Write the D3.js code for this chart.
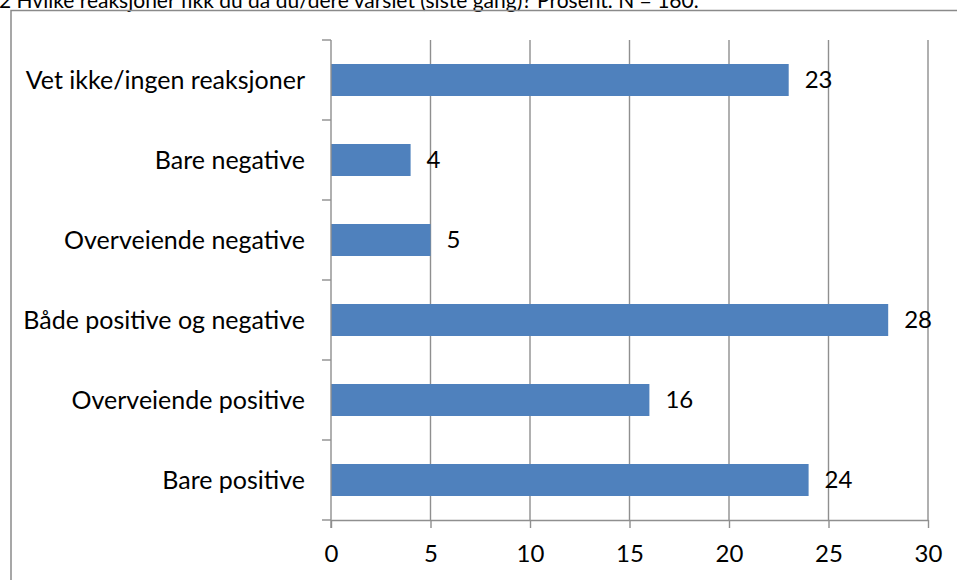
<!DOCTYPE html>
<html>
<head>
<meta charset="utf-8">
<script src="https://cdn.jsdelivr.net/npm/d3@7"></script>
<style>
  html, body { margin: 0; padding: 0; background: #fff; overflow: hidden; }
  svg { display: block; }
  text { font-family: Lato, "Noto Sans", sans-serif; fill: #000; }
</style>
</head>
<body>
<svg id="chart" width="957" height="580"></svg>
<script>
// Reactions received after whistleblowing (percent), listed top to bottom
const categories = [
  "Vet ikke/ingen reaksjoner",
  "Bare negative",
  "Overveiende negative",
  "Både positive og negative",
  "Overveiende positive",
  "Bare positive"
];
const values = [23, 4, 5, 28, 16, 24];
const xTicks = [0, 5, 10, 15, 20, 25, 30];
const title = "2 Hvilke reaksjoner fikk du da du/dere varslet (siste gang)? Prosent. N = 160.";

const svg = d3.select("#chart");
const gridColor = "#8f8f8f";
const barColor = "#4f81bd";

const plot = { left: 331, right: 928, top: 40, bottom: 520 };

const x = d3.scaleLinear().domain([0, 30]).range([plot.left, plot.right]);
const y = d3.scaleBand().domain(categories).range([plot.top, plot.bottom])
  .paddingInner(0.6).paddingOuter(0.3);

// Title line above the chart frame
svg.append("text")
  .attr("x", -1).attr("y", 8)
  .style("font-size", "21px")
  .text(title);

// Chart frame
svg.append("rect")
  .attr("x", 11).attr("y", 10.5)
  .attr("width", 1000).attr("height", 1000)
  .attr("fill", "none")
  .attr("stroke", "#8a8a8a")
  .attr("stroke-width", 1.5);

// Vertical gridlines
svg.append("g").selectAll("line")
  .data(xTicks.filter(d => d > 0))
  .join("line")
  .attr("x1", d => x(d)).attr("x2", d => x(d))
  .attr("y1", plot.top).attr("y2", plot.bottom)
  .attr("stroke", gridColor).attr("stroke-width", 1.4);

// Bars
svg.append("g").selectAll("rect")
  .data(categories)
  .join("rect")
  .attr("x", x(0))
  .attr("y", d => y(d))
  .attr("width", (d, i) => x(values[i]) - x(0))
  .attr("height", y.bandwidth())
  .attr("fill", barColor);

// X axis (bottom)
const xAxis = d3.axisBottom(x).tickValues(xTicks).tickSize(8).tickPadding(17).tickSizeOuter(0);
const gx = svg.append("g").attr("transform", `translate(0,${plot.bottom})`).call(xAxis);
gx.select(".domain").attr("stroke", gridColor).attr("stroke-width", 1.4);
gx.selectAll(".tick line").attr("stroke", gridColor).attr("stroke-width", 1.4);
gx.selectAll(".tick text")
  .style("font-family", "Lato, 'Noto Sans', sans-serif")
  .style("font-size", "24px").attr("fill", "#000");

// Y axis (category boundaries get tick marks)
const bounds = d3.range(categories.length + 1).map(i => plot.top + i * y.step());
svg.append("line")
  .attr("x1", plot.left).attr("x2", plot.left)
  .attr("y1", plot.top).attr("y2", plot.bottom + 8)
  .attr("stroke", gridColor).attr("stroke-width", 1.4);
svg.append("g").selectAll("line")
  .data(bounds)
  .join("line")
  .attr("x1", plot.left - 9).attr("x2", plot.left)
  .attr("y1", d => d).attr("y2", d => d)
  .attr("stroke", gridColor).attr("stroke-width", 1.4);

// Category labels
svg.append("g").selectAll("text")
  .data(categories)
  .join("text")
  .attr("x", 305)
  .attr("y", d => y(d) + y.bandwidth() / 2)
  .attr("dy", "0.35em")
  .attr("text-anchor", "end")
  .style("font-size", "25px")
  .text(d => d);

// Value labels
svg.append("g").selectAll("text")
  .data(categories)
  .join("text")
  .attr("x", (d, i) => x(values[i]) + 16)
  .attr("y", d => y(d) + y.bandwidth() / 2)
  .attr("dy", "0.35em")
  .style("font-size", "24px")
  .text((d, i) => values[i]);
</script>
</body>
</html>
